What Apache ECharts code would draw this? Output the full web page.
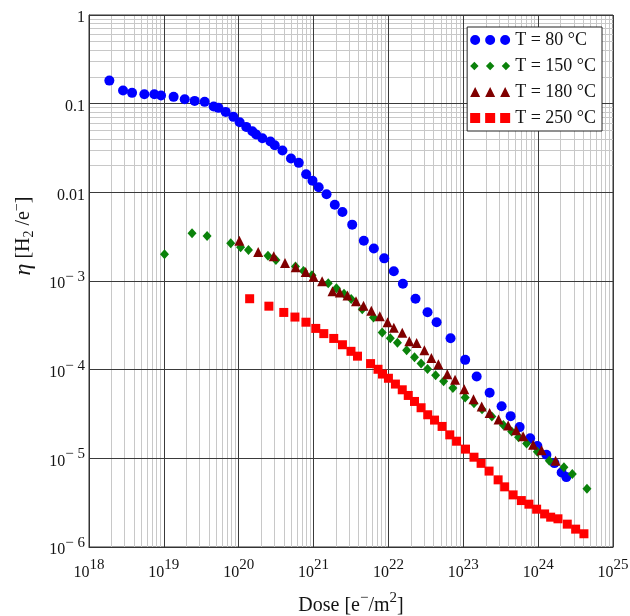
<!DOCTYPE html>
<html><head><meta charset="utf-8">
<script src="https://cdn.jsdelivr.net/npm/echarts@6/dist/echarts.min.js"></script>
<style>html,body{margin:0;padding:0;background:#fff}#c{width:630px;height:616px}</style>
</head><body><div id="c"></div>
<script>
const seriesNames = ['T = 80 °C', 'T = 150 °C', 'T = 180 °C', 'T = 250 °C'];
const seriesColors = ['#0000ff', '#0a820a', '#800000', '#ff0000'];

// [dose (e-/m2), eta (H2/e-)]
const data80 = [
  [1.87e18,0.182],[2.85e18,0.1406],[3.76e18,0.1324],[5.49e18,0.1277],[7.46e18,0.1277],
  [9.17e18,0.1234],[1.35e19,0.1193],[1.90e19,0.1121],[2.58e19,0.1075],[3.51e19,0.1048],
  [4.63e19,0.0927],[5.35e19,0.0897],[6.70e19,0.0808],[8.49e19,0.0710],[1.03e20,0.0617],
  [1.26e20,0.0547],[1.52e20,0.0488],[1.71e20,0.0448],[2.07e20,0.0407],[2.65e20,0.0374],
  [3.03e20,0.0339],[3.84e20,0.0296],[4.99e20,0.0241],[6.34e20,0.0215],[7.96e20,0.0160],
  [9.67e20,0.01355],[1.17e21,0.01139],[1.49e21,0.0095],[1.92e21,0.00726],[2.43e21,0.00601],
  [3.28e21,0.00432],[4.69e21,0.00285],[6.38e21,0.00233],[8.79e21,0.0018],[1.18e22,0.00129],
  [1.56e22,9.32e-4],[2.30e22,6.31e-4],[3.33e22,4.45e-4],[4.40e22,3.43e-4],[6.76e22,2.26e-4],
  [1.06e23,1.29e-4],[1.51e23,8.38e-5],[2.25e23,5.48e-5],[3.25e23,3.86e-5],[4.29e23,2.99e-5],
  [5.66e23,2.25e-5],[7.82e23,1.68e-5],[9.76e23,1.38e-5],[1.29e24,1.10e-5],[1.65e24,8.83e-6],
  [2.06e24,6.92e-6],[2.38e24,6.14e-6]
];
const data150 = [
  [1.02e19,2.00e-3],[2.38e19,3.45e-3],[3.78e19,3.22e-3],[7.82e19,2.66e-3],[1.06e20,2.41e-3],
  [1.35e20,2.24e-3],[2.46e20,1.93e-3],[3.14e20,1.72e-3],[5.73e20,1.46e-3],[7.33e20,1.30e-3],
  [9.52e20,1.16e-3],[1.57e21,9.44e-4],[2.02e21,8.30e-4],[2.55e21,7.19e-4],[3.18e21,6.26e-4],
  [4.47e21,4.81e-4],[6.32e21,3.88e-4],[8.26e21,2.63e-4],[1.06e22,2.26e-4],[1.32e22,2.01e-4],
  [1.75e22,1.66e-4],[2.23e22,1.38e-4],[2.73e22,1.17e-4],[3.33e22,1.02e-4],[4.27e22,8.65e-5],
  [5.46e22,7.40e-5],[7.26e22,6.20e-5],[1.06e23,4.85e-5],[1.39e23,4.18e-5],[1.78e23,3.57e-5],
  [2.41e23,2.96e-5],[3.43e23,2.37e-5],[4.43e23,2.01e-5],[5.48e23,1.73e-5],[7.01e23,1.47e-5],
  [9.76e23,1.19e-5],[1.41e24,9.37e-6],[2.21e24,7.91e-6],[2.86e24,6.65e-6],[4.49e24,4.55e-6]
];
const data180 = [
  [1.02e20,2.85e-3],[1.82e20,2.12e-3],[2.94e20,1.90e-3],[4.15e20,1.60e-3],[5.77e20,1.43e-3],
  [7.84e20,1.26e-3],[9.97e20,1.12e-3],[1.30e21,9.95e-4],[1.79e21,7.67e-4],[2.24e21,7.44e-4],
  [2.84e21,6.88e-4],[3.69e21,5.92e-4],[4.65e21,5.26e-4],[5.91e21,4.62e-4],[7.67e21,4.01e-4],
  [9.73e21,3.43e-4],[1.18e22,2.97e-4],[1.53e22,2.61e-4],[1.90e22,2.09e-4],[2.38e22,2.00e-4],
  [3.02e22,1.66e-4],[3.75e22,1.35e-4],[4.65e22,1.15e-4],[6.12e22,8.87e-5],[7.77e22,7.69e-5],
  [1.03e23,6.01e-5],[1.37e23,4.63e-5],[1.76e23,3.84e-5],[2.25e23,3.24e-5],[2.96e23,2.74e-5],
  [3.97e23,2.34e-5],[5.08e23,2.08e-5],[6.30e23,1.77e-5],[8.57e23,1.42e-5],[1.11e24,1.23e-5],
  [1.71e24,9.37e-6]
];
const data250 = [
  [1.40e20,6.31e-4],[2.53e20,5.20e-4],[4.00e20,4.42e-4],[5.64e20,3.92e-4],[7.91e20,3.43e-4],
  [1.07e21,2.92e-4],[1.37e21,2.55e-4],[1.86e21,2.25e-4],[2.43e21,1.91e-4],[3.16e21,1.61e-4],
  [3.86e21,1.42e-4],[5.77e21,1.17e-4],[7.26e21,1.01e-4],[8.34e21,8.92e-5],[1.00e22,8.00e-5],
  [1.24e22,6.88e-5],[1.53e22,5.93e-5],[1.84e22,5.12e-5],[2.23e22,4.38e-5],[2.73e22,3.72e-5],
  [3.35e22,3.10e-5],[4.13e22,2.70e-5],[5.21e22,2.29e-5],[6.60e22,1.84e-5],[8.13e22,1.56e-5],
  [1.07e23,1.27e-5],[1.39e23,1.03e-5],[1.73e23,8.78e-6],[2.21e23,7.18e-6],[2.92e23,5.72e-6],
  [3.57e23,4.77e-6],[4.63e23,3.87e-6],[5.96e23,3.34e-6],[7.53e23,3.04e-6],[9.55e23,2.67e-6],
  [1.22e24,2.36e-6],[1.47e24,2.17e-6],[1.84e24,2.08e-6],[2.45e24,1.81e-6],[3.17e24,1.59e-6],
  [4.09e24,1.41e-6]
];

const xTickExps = ['18','19','20','21','22','23','24','25'];
const yTickLabels = ['1','0.1','0.01','10|− 3','10|− 4','10|− 5','10|− 6'];

const FONT = 'Liberation Serif';
const TXT = '#141414';

// minor grid positions (2..9 within each decade)
const xMinor = [], yMinor = [];
for (let k = 18; k < 25; k++) for (let d = 2; d <= 9; d++) xMinor.push(d * Math.pow(10, k));
for (let k = -6; k < 0; k++) for (let d = 2; d <= 9; d++) yMinor.push(+(d * Math.pow(10, k)).toPrecision(3));

const legendIcons = [
  'path://M0,5a5,5 0 1,0 10,0a5,5 0 1,0 -10,0Z M15,5a5,5 0 1,0 10,0a5,5 0 1,0 -10,0Z M30,5a5,5 0 1,0 10,0a5,5 0 1,0 -10,0Z',
  'path://M5,1L9,5L5,9L1,5Z M20,1L24,5L20,9L16,5Z M35,1L39,5L35,9L31,5Z',
  'path://M5,0L10,10L0,10Z M20,0L25,10L15,10Z M35,0L40,10L30,10Z',
  'path://M0,0H10V10H0Z M15,0H25V10H15Z M30,0H40V10H30Z'
];
const symbols = ['circle', 'diamond', 'triangle', 'rect'];
const symbolSizes = [10, [9, 10], 10, 9];
const allData = [data80, data150, data180, data250];

const chart = echarts.init(document.getElementById('c'), null, {renderer: 'canvas'});
const series = [{
  type: 'scatter', data: [], z: 1, silent: true,
  markLine: {
    silent: true, z: 1, symbol: ['none', 'none'], label: {show: false},
    lineStyle: {color: '#c8c8c8', width: 1, type: 'solid'},
    emphasis: {disabled: true},
    data: xMinor.map(v => ({xAxis: v})).concat(yMinor.map(v => ({yAxis: v})))
  }
}];
seriesNames.forEach((n, i) => series.push({
  name: n, type: 'scatter', z: 5, data: allData[i],
  symbol: symbols[i], symbolSize: symbolSizes[i],
  itemStyle: {color: seriesColors[i], opacity: 1}
}));

chart.setOption({
  animation: false,
  backgroundColor: '#fff',
  grid: {left: 89, right: 17, top: 15, bottom: 69, show: true, borderColor: '#333', borderWidth: 1,
         containLabel: false, outerBoundsMode: 'none'},
  xAxis: {
    type: 'log', logBase: 10, min: 1e18, max: 1e25, z: 3,
    axisLine: {show: true, lineStyle: {color: '#333', width: 1}},
    axisTick: {show: false},
    splitLine: {show: true, lineStyle: {color: '#3a3a3a', width: 1}},
    axisLabel: {
      show: true, showMinLabel: true, showMaxLabel: true, margin: 11,
      formatter: v => { const e = Math.round(Math.log10(v)); return '{b|10}{s|' + xTickExps[e - 18] + '}'; },
      rich: {
        b: {fontFamily: FONT, fontSize: 16, color: TXT},
        s: {fontFamily: FONT, fontSize: 15, color: TXT, padding: [0, 0, 15, 0]}
      }
    },
    name: '{t|Dose [e}{s|−}{t|/m}{s|2}{t|]}', nameLocation: 'middle', nameGap: 44,
    nameTextStyle: {
      rich: {
        t: {fontFamily: FONT, fontSize: 20, color: TXT},
        s: {fontFamily: FONT, fontSize: 15, color: TXT, padding: [0, 0, 14, 0]}
      }
    }
  },
  yAxis: {
    type: 'log', logBase: 10, min: 1e-6, max: 1, z: 3,
    axisLine: {show: true, lineStyle: {color: '#333', width: 1}},
    axisTick: {show: false},
    splitLine: {show: true, lineStyle: {color: '#3a3a3a', width: 1}},
    axisLabel: {
      show: true, showMinLabel: true, showMaxLabel: true, margin: 4,
      formatter: v => {
        const e = Math.round(-Math.log10(v));
        const lab = yTickLabels[e];
        if (lab.indexOf('|') >= 0) { const p = lab.split('|'); return '{b|' + p[0] + '}{s|' + p[1] + '}'; }
        return '{b|' + lab + '}';
      },
      rich: {
        b: {fontFamily: FONT, fontSize: 16, color: TXT, padding: [6, 0, 0, 0]},
        s: {fontFamily: FONT, fontSize: 15, color: TXT, padding: [0, 0, 8, 0]}
      }
    }
  },
  legend: {
    orient: 'vertical', right: 28, top: 27, z: 20,
    backgroundColor: '#fff', borderColor: '#222', borderWidth: 1,
    padding: [4, 6, 4, 3], itemGap: 8, itemWidth: 40, itemHeight: 10, itemTextGap: 5,
    selectedMode: false,
    textStyle: {fontFamily: FONT, fontSize: 18, color: TXT, lineHeight: 18},
    data: seriesNames.map((n, i) => ({name: n, icon: legendIcons[i]}))
  },
  graphic: [{
    type: 'text', x: 24, y: 236, rotation: Math.PI / 2, z: 20,
    style: {
      text: '{e|η}{t| [H}{b|2}{t| /e}{s|−}{t|]}',
      align: 'center', verticalAlign: 'middle',
      rich: {
        e: {fontFamily: FONT, fontSize: 24, fontStyle: 'italic', fill: TXT, color: TXT},
        t: {fontFamily: FONT, fontSize: 20, fill: TXT, color: TXT},
        b: {fontFamily: FONT, fontSize: 14, fill: TXT, color: TXT, padding: [10, 0, 0, 0]},
        s: {fontFamily: FONT, fontSize: 14, fill: TXT, color: TXT, padding: [0, 0, 14, 0]}
      }
    }
  }],
  series: series
});
</script></body></html>
